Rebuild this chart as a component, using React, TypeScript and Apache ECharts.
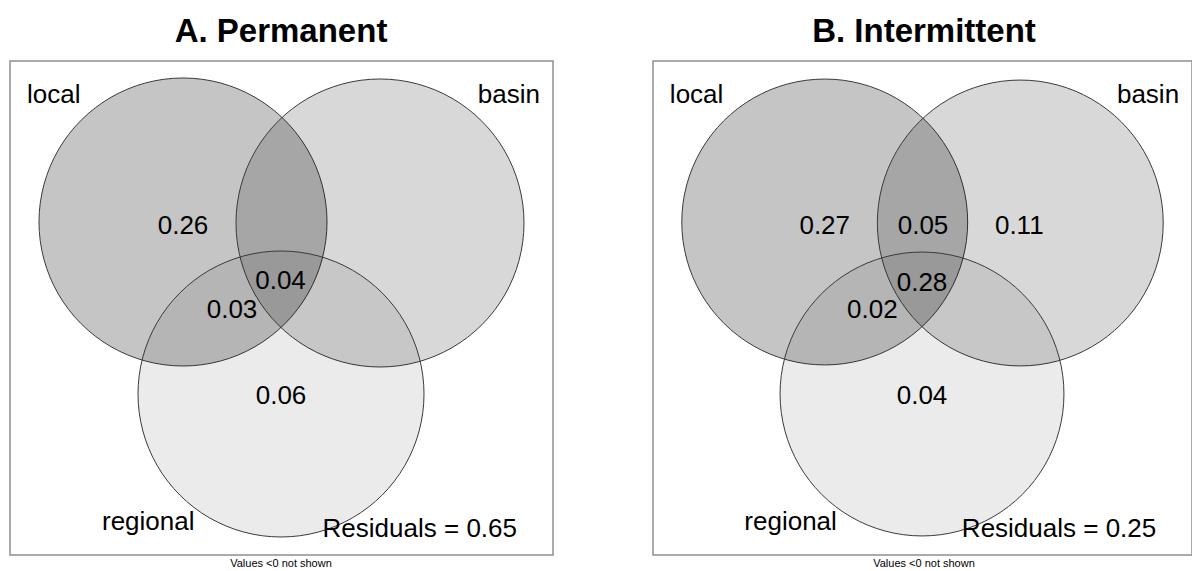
import React, { useEffect, useRef } from "react";
import * as echarts from "echarts";

// ---- data ----
const setNames = ["local", "basin", "regional"];
// Venn layout (data units): circle centres and radii, same for both panels
const circleX = [1.73, 3.7, 2.71];
const circleY = [3.33, 3.32, 1.61];
const circleR = [1.44, 1.44, 1.43];

const panelTitles = ["A. Permanent", "B. Intermittent"];
const residuals = [0.65, 0.25];

// fraction values and where the layout places them (data units)
const fractionsA = [0.26, 0.04, 0.03, 0.06];
const fractionXA = [1.73, 2.705, 2.22, 2.71];
const fractionYA = [3.3, 2.75, 2.46, 1.6];

const fractionsB = [0.27, 0.05, 0.11, 0.28, 0.02, 0.04];
const fractionXB = [1.73, 2.72, 3.69, 2.71, 2.21, 2.71];
const fractionYB = [3.3, 3.3, 3.3, 2.73, 2.46, 1.6];

// set-name label anchors (data units)
const setLabelX = [0.17, 5.3, 0.92];
const setLabelY = [4.61, 4.61, 0.34];
const residualX = 5.07;
const residualY = 0.27;

const FONT = "Arial, 'Liberation Sans', sans-serif";
const circleFills = ["rgba(0,0,0,0.227)", "rgba(0,0,0,0.153)", "rgba(0,0,0,0.078)"];

const GRID_LEFT = [10, 653];
const GRID_TOP = 61;
const GRID_W = 543;
const GRID_H = 494;

type Lbl = { x: number; y: number; text: string; align: string };

function panelLabels(p: number): Lbl[] {
  const out: Lbl[] = [];
  const aligns = ["left", "right", "left"];
  setNames.forEach((n, i) => out.push({ x: setLabelX[i], y: setLabelY[i], text: n, align: aligns[i] }));
  const vals = p === 0 ? fractionsA : fractionsB;
  const xs = p === 0 ? fractionXA : fractionXB;
  const ys = p === 0 ? fractionYA : fractionYB;
  vals.forEach((v, i) => out.push({ x: xs[i], y: ys[i], text: v.toFixed(2), align: "center" }));
  out.push({ x: residualX, y: residualY, text: "Residuals = " + residuals[p].toFixed(2), align: "right" });
  return out;
}

export default function App() {
  const ref = useRef<HTMLDivElement>(null);
  useEffect(() => {
    if (!ref.current) return;
    const chart = echarts.init(ref.current, undefined, { renderer: "svg" });
    const grids: any[] = [];
    const xAxes: any[] = [];
    const yAxes: any[] = [];
    const series: any[] = [];
    const graphics: any[] = [];
    [0, 1].forEach((p) => {
      grids.push({
        left: GRID_LEFT[p],
        top: GRID_TOP,
        width: GRID_W,
        height: GRID_H,
        show: true,
        borderColor: "#8f8f8f",
        borderWidth: 1.5,
        backgroundColor: "transparent",
      });
      xAxes.push({ type: "value", gridIndex: p, min: 0, max: GRID_W / 100, show: false });
      yAxes.push({ type: "value", gridIndex: p, min: 0, max: GRID_H / 100, show: false });
      series.push({
        type: "custom",
        xAxisIndex: p,
        yAxisIndex: p,
        clip: false,
        data: circleX.map((x, i) => [x, circleY[i], circleR[i]]),
        renderItem: (params: any, api: any) => {
          const c = api.coord([api.value(0), api.value(1)]);
          const r = api.size([api.value(2), 0])[0];
          return {
            type: "circle",
            shape: { cx: c[0], cy: c[1], r },
            style: { fill: circleFills[params.dataIndex], stroke: "#3a3a3a", lineWidth: 1 },
          };
        },
      });
      const labels = panelLabels(p);
      series.push({
        type: "custom",
        xAxisIndex: p,
        yAxisIndex: p,
        clip: false,
        data: labels.map((l) => [l.x, l.y]),
        renderItem: (params: any, api: any) => {
          const c = api.coord([api.value(0), api.value(1)]);
          const l = labels[params.dataIndex];
          return {
            type: "text",
            x: c[0],
            y: c[1],
            style: {
              text: l.text,
              fontSize: 26,
              fontFamily: FONT,
              fill: "#000",
              align: l.align,
              verticalAlign: "middle",
            },
          };
        },
      });
      const cx = GRID_LEFT[p] + 271;
      graphics.push({
        type: "text",
        x: cx,
        y: 30,
        style: {
          text: panelTitles[p],
          fontSize: 33,
          fontWeight: "bold",
          fontFamily: FONT,
          fill: "#000",
          align: "center",
          verticalAlign: "middle",
        },
      });
      graphics.push({
        type: "text",
        x: cx,
        y: 563,
        style: {
          text: "Values <0 not shown",
          fontSize: 11,
          fontFamily: FONT,
          fill: "#000",
          align: "center",
          verticalAlign: "middle",
        },
      });
    });
    chart.setOption({
      animation: false,
      backgroundColor: "#fff",
      grid: grids,
      xAxis: xAxes,
      yAxis: yAxes,
      series,
      graphic: graphics,
    });
    return () => chart.dispose();
  }, []);
  return (
    <div
      ref={ref}
      style={{ position: "fixed", left: 0, top: 0, width: 1192, height: 571 }}
    />
  );
}
